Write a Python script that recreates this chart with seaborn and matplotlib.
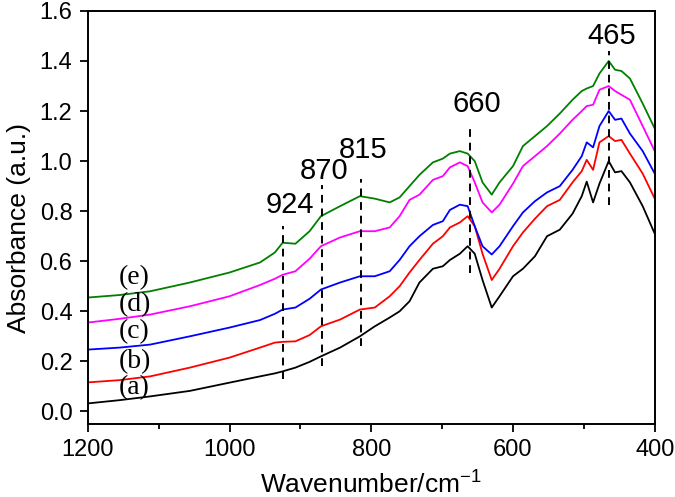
import numpy as np
import pandas as pd
import matplotlib
matplotlib.use("Agg")
import matplotlib.pyplot as plt
from matplotlib.ticker import MultipleLocator, FormatStrFormatter
import seaborn as sns

# ------------------------
# data
# ------------------------
wavenumber = [1200, 1155, 1112, 1056, 1000, 957, 936, 925, 907, 887, 871, 844, 816, 795,
              774, 760, 746, 732, 713, 699, 689, 675, 664, 654, 643, 630, 619, 600,
              586, 569, 552, 534, 516, 503, 496, 487, 478, 465, 456, 447, 435, 417, 400]

abs_a = [0.032, 0.045, 0.060, 0.082, 0.115, 0.140, 0.152, 0.160, 0.175, 0.198, 0.220, 0.255, 0.300, 0.340,
         0.375, 0.400, 0.440, 0.515, 0.570, 0.580, 0.605, 0.630, 0.660, 0.630, 0.525, 0.415, 0.460, 0.540,
         0.570, 0.620, 0.700, 0.726, 0.790, 0.860, 0.918, 0.835, 0.910, 1.000, 0.955, 0.960, 0.915, 0.820, 0.710]
abs_b = [0.116, 0.125, 0.140, 0.175, 0.215, 0.255, 0.275, 0.278, 0.280, 0.305, 0.340, 0.367, 0.407, 0.415,
         0.460, 0.500, 0.555, 0.605, 0.670, 0.700, 0.735, 0.755, 0.780, 0.740, 0.630, 0.525, 0.570, 0.660,
         0.715, 0.770, 0.820, 0.845, 0.915, 0.960, 1.005, 0.965, 1.075, 1.100, 1.080, 1.085, 1.030, 0.950, 0.850]
abs_c = [0.247, 0.255, 0.267, 0.300, 0.335, 0.365, 0.390, 0.407, 0.415, 0.450, 0.487, 0.515, 0.540, 0.540,
         0.560, 0.605, 0.660, 0.700, 0.745, 0.760, 0.805, 0.826, 0.820, 0.740, 0.660, 0.627, 0.660, 0.740,
         0.795, 0.840, 0.875, 0.900, 0.965, 1.020, 1.075, 1.055, 1.140, 1.200, 1.165, 1.170, 1.110, 1.040, 0.950]
abs_d = [0.355, 0.370, 0.387, 0.420, 0.460, 0.505, 0.530, 0.546, 0.560, 0.610, 0.660, 0.695, 0.720, 0.720,
         0.735, 0.780, 0.845, 0.866, 0.925, 0.940, 0.975, 0.995, 0.980, 0.915, 0.835, 0.795, 0.826, 0.910,
         0.980, 1.020, 1.060, 1.110, 1.165, 1.200, 1.220, 1.225, 1.285, 1.300, 1.280, 1.265, 1.245, 1.140, 1.040]
abs_e = [0.455, 0.465, 0.480, 0.515, 0.555, 0.595, 0.635, 0.674, 0.670, 0.720, 0.780, 0.820, 0.860, 0.850,
         0.835, 0.855, 0.900, 0.945, 0.995, 1.010, 1.030, 1.040, 1.030, 1.000, 0.915, 0.866, 0.915, 0.980,
         1.060, 1.100, 1.140, 1.190, 1.245, 1.280, 1.290, 1.300, 1.350, 1.400, 1.365, 1.360, 1.330, 1.230, 1.130]

sample_names = ["(a)", "(b)", "(c)", "(d)", "(e)"]
sample_colors = ["black", "red", "blue", "magenta", "green"]
label_y = [0.096, 0.20, 0.32, 0.427, 0.535]

# peak markers
peak_pos = [924, 870, 815, 660, 465]
peak_lo = [0.13, 0.18, 0.26, 0.555, 0.825]
peak_hi = [0.74, 0.905, 0.93, 1.145, 1.44]
peak_text_x = [915, 866, 812, 651, 461]
peak_text_y = [0.826, 0.96, 1.045, 1.23, 1.50]

#------------------------
# build long table
#------------------------
frames = []
for name, vals in zip(sample_names, [abs_a, abs_b, abs_c, abs_d, abs_e]):
    frames.append(pd.DataFrame({"wavenumber": wavenumber, "absorbance": vals, "sample": name}))
data = pd.concat(frames, ignore_index=True)

sns.set_style("ticks", {"text.color": "black", "axes.labelcolor": "black",
                        "xtick.color": "black", "ytick.color": "black",
                        "axes.edgecolor": "black"})
plt.rcParams["font.family"] = ["Liberation Sans", "DejaVu Sans"]
plt.rcParams["mathtext.fontset"] = "custom"
plt.rcParams["mathtext.rm"] = "Liberation Sans"

fig, ax = plt.subplots(figsize=(6.75, 4.97), dpi=100)
fig.subplots_adjust(left=0.130, right=0.970, top=0.978, bottom=0.147)

sns.lineplot(data=data, x="wavenumber", y="absorbance", hue="sample",
             palette=dict(zip(sample_names, sample_colors)), sort=False,
             estimator=None, linewidth=1.3, legend=False, ax=ax)

for p, lo, hi, tx, ty in zip(peak_pos, peak_lo, peak_hi, peak_text_x, peak_text_y):
    ax.plot([p, p], [lo, hi], color="black", linestyle=(0, (4, 3)), linewidth=1.4)
    ax.text(tx, ty, str(p), fontsize=21, ha="center", va="center")

for name, yy in zip(sample_names, label_y):
    ax.text(1134, yy, name, fontsize=20, ha="center", va="center",
            family=["Liberation Serif", "DejaVu Serif"])

ax.set_xlim(1200, 400)
ax.set_ylim(-0.05, 1.6)
ax.xaxis.set_major_locator(MultipleLocator(200))
ax.xaxis.set_minor_locator(MultipleLocator(100))
ax.yaxis.set_major_locator(MultipleLocator(0.2))
ax.yaxis.set_major_formatter(FormatStrFormatter("%.1f"))
ax.tick_params(axis="both", which="major", direction="out", length=6, width=1.3,
               labelsize=17, pad=5)
ax.tick_params(axis="x", which="minor", direction="out", length=3.5, width=1.3)
for s in ax.spines.values():
    s.set_linewidth(1.4)

ax.set_xlabel("Wavenumber/cm$^{\\mathrm{-1}}$", fontsize=19, labelpad=6)
ax.set_ylabel("Absorbance (a.u.)", fontsize=19)
ax.yaxis.set_label_coords(-0.10, 0.475)

fig.savefig("out.png", dpi=100)
